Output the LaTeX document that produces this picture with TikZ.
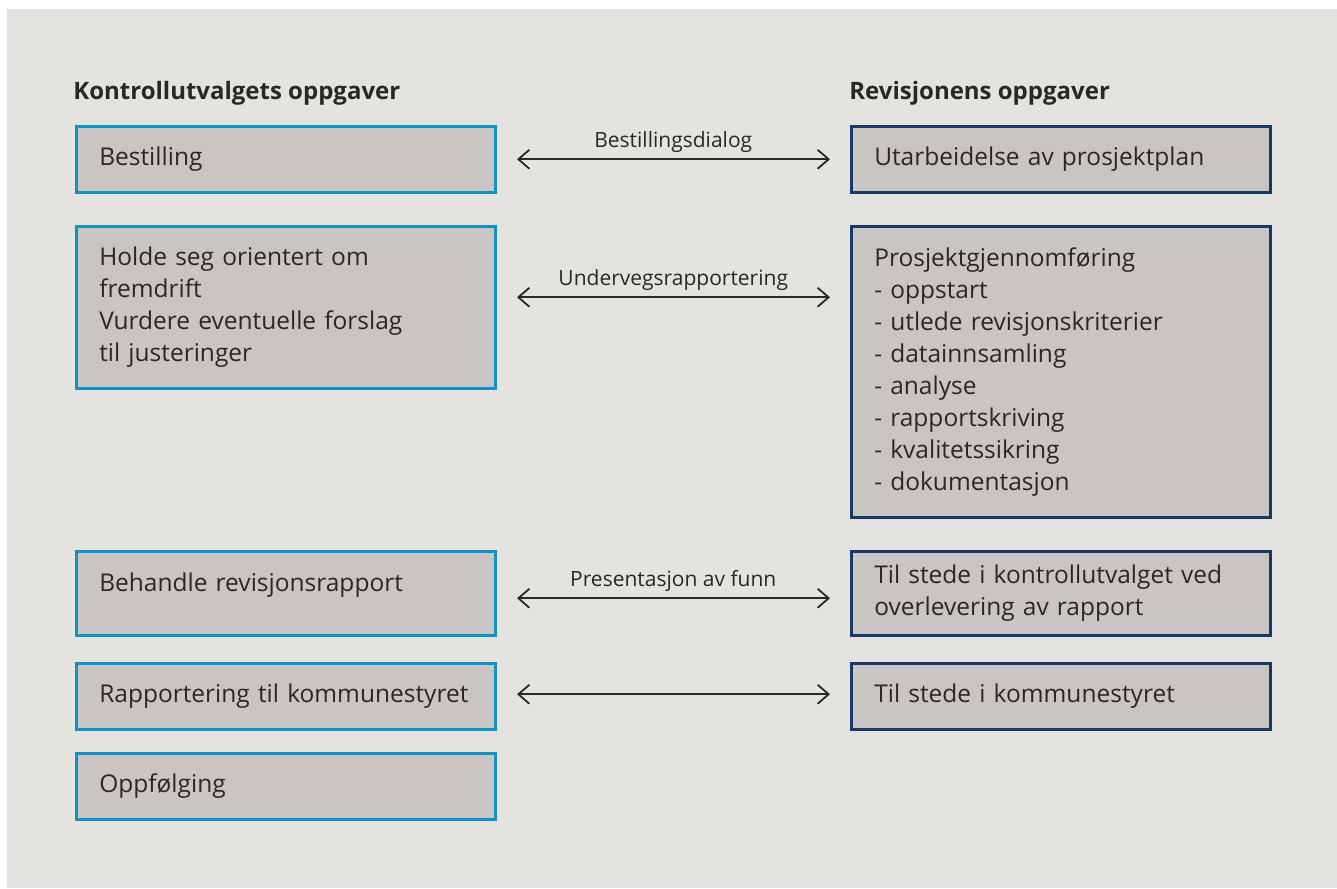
\documentclass[tikz,border=0pt]{standalone}
\usepackage{fontspec}
\setmainfont{Open Sans}
\usetikzlibrary{arrows.meta,calc}

\definecolor{pagegray}{HTML}{E4E3DF}
\definecolor{boxgray}{HTML}{C9C5C2}
\definecolor{kublue}{HTML}{1292C8}
\definecolor{revnavy}{HTML}{163A68}
\definecolor{inkgray}{HTML}{2A2727}

\tikzset{every picture/.style={line width=0.75pt}}
\tikzset{
  taskbox/.style={fill=boxgray, line width=2.5pt, anchor=north west,
    minimum width=419pt, text width=373pt, inner xsep=23pt, inner ysep=0pt,
    align=left, text=inkgray, font=\fontsize{24.5}{32}\selectfont},
  kubox/.style={taskbox, draw=kublue},
  revbox/.style={taskbox, draw=revnavy},
  headtext/.style={anchor=base west, inner sep=0pt, text=inkgray,
    font=\fontsize{24}{28}\selectfont\bfseries},
  dialog/.style={line width=1.8pt, draw=inkgray, {Straight Barb[length=11pt,width=19pt]}-{Straight Barb[length=11pt,width=19pt]},
    shorten <=20.5pt, shorten >=20pt},
  dialoglabel/.style={midway, above=6pt, inner sep=0pt, text=inkgray,
    font=\fontsize{21}{24}\selectfont}
}

\begin{document}
\begin{tikzpicture}[x=1pt,y=1pt,yscale=-1,xscale=1]
    \useasboundingbox (0,0) rectangle (1337,888);
    \fill [white] (0,0) rectangle (1337,888);
    \fill [pagegray] (7,9) rectangle (1337,888);

    % Text Node
    \node [headtext] (kuhead) at (73,100) {Kontrollutvalgets oppgaver};
    % Text Node
    \node [headtext] (revhead) at (849,100) {Revisjonens oppgaver};

    % Kontrollutvalget
    \node [kubox, minimum height=66pt] (bestilling) at (75,125) {Bestilling};
    \node [kubox, minimum height=162pt] (orientert) at (75,225) {Holde seg orientert om\\fremdrift\\Vurdere eventuelle forslag\\til justeringer};
    \node [kubox, minimum height=84pt, text depth=22pt] (behandle) at (75,550) {Behandle revisjonsrapport};
    \node [kubox, minimum height=66pt] (rapportering) at (75,662) {Rapportering til kommunestyret};
    \node [kubox, minimum height=66pt] (oppfolging) at (75,752) {Oppfølging};

    % Revisjonen
    \node [revbox, minimum height=66pt] (prosjektplan) at (850,125) {Utarbeidelse av prosjektplan};
    \node [revbox, minimum height=291pt] (gjennomforing) at (850,225) {Prosjektgjennomføring\\- oppstart\\- utlede revisjonskriterier\\- datainnsamling\\- analyse\\- rapportskriving\\- kvalitetssikring\\- dokumentasjon};
    \node [revbox, minimum height=84pt] (overlevering) at (850,550) {Til stede i kontrollutvalget ved\\overlevering av rapport};
    \node [revbox, minimum height=66pt] (kommunestyret) at (850,662) {Til stede i kommunestyret};

    %Straight Lines
    \draw [dialog] (bestilling.east) -- (prosjektplan.west) node [dialoglabel] {Bestillingsdialog};
    \draw [dialog] ($(orientert.east)+(0,-10)$) -- ($(gjennomforing.west |- orientert.east)+(0,-10)$) node [dialoglabel] {Undervegsrapportering};
    \draw [dialog] ($(behandle.east)+(0,5)$) -- ($(overlevering.west)+(0,5)$) node [dialoglabel] {Presentasjon av funn};
    \draw [dialog] ($(rapportering.east)+(0,-2)$) -- ($(kommunestyret.west)+(0,-2)$);
\end{tikzpicture}
\end{document}
